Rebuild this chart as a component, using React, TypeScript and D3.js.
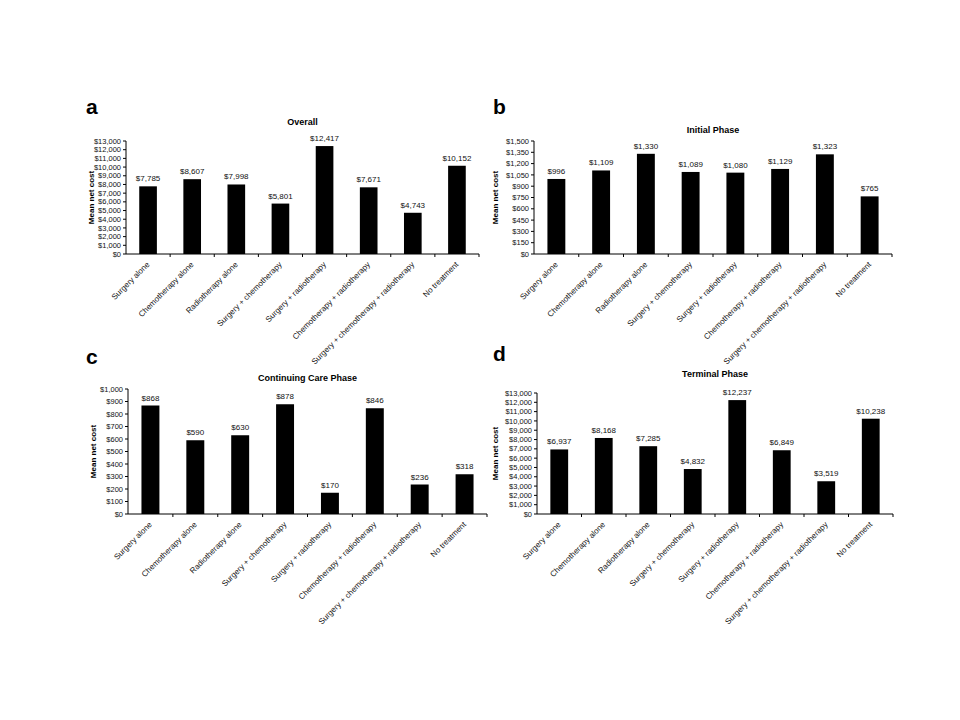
import React from "react";
import * as d3 from "d3";

const categories = [
  "Surgery alone",
  "Chemotherapy alone",
  "Radiotherapy alone",
  "Surgery + chemotherapy",
  "Surgery + radiotherapy",
  "Chemotherapy + radiotherapy",
  "Surgery + chemotherapy + radiotherapy",
  "No treatment",
];
const overall = [7785, 8607, 7998, 5801, 12417, 7671, 4743, 10152];
const initial = [996, 1109, 1330, 1089, 1080, 1129, 1323, 765];
const continuing = [868, 590, 630, 878, 170, 846, 236, 318];
const terminal = [6937, 8168, 7285, 4832, 12237, 6849, 3519, 10238];

const FONT = "'Liberation Sans', Arial, sans-serif";
const fmt = (v: number) => "$" + d3.format(",")(v);

type PanelProps = {
  letter: string;
  letterX: number;
  letterY: number;
  title: string;
  titleY: number;
  values: number[];
  max: number;
  step: number;
  x0: number;
  x1: number;
  yTop: number;
  yBottom: number;
  yTitleX: number;
};

function Panel(p: PanelProps) {
  const x = d3.scaleBand<string>().domain(categories).range([p.x0, p.x1]).paddingInner(0.6).paddingOuter(0.3);
  const band = d3.scaleBand<string>().domain(categories).range([p.x0, p.x1]);
  const y = d3.scaleLinear().domain([0, p.max]).range([p.yBottom, p.yTop]);
  const ticks = d3.range(0, p.max + p.step / 2, p.step);
  const bw = band.bandwidth();
  return (
    <g fontFamily={FONT}>
      <text x={p.letterX} y={p.letterY} fontSize={21} fontWeight="bold" fill="#000">
        {p.letter}
      </text>
      <text x={(p.x0 + p.x1) / 2} y={p.titleY} fontSize={9} fontWeight="bold" textAnchor="middle" fill="#000">
        {p.title}
      </text>
      <text
        transform={`translate(${p.yTitleX},${(p.yTop + p.yBottom) / 2}) rotate(-90)`}
        fontSize={8}
        fontWeight="bold"
        textAnchor="middle"
        dy="0.35em"
        fill="#000"
      >
        Mean net cost
      </text>
      {categories.map((c, i) => (
        <g key={c}>
          <rect x={x(c)} y={y(p.values[i])} width={x.bandwidth()} height={p.yBottom - y(p.values[i])} fill="#000" />
          <text
            x={(x(c) as number) + x.bandwidth() / 2}
            y={y(p.values[i]) - 5}
            fontSize={8}
            textAnchor="middle"
            fill="#111"
          >
            {fmt(p.values[i])}
          </text>
          <text
            transform={`translate(${(band(c) as number) + bw / 2},${p.yBottom + 9}) rotate(-45)`}
            fontSize={8}
            textAnchor="end"
            dy="0.35em"
            fill="#111"
          >
            {c}
          </text>
        </g>
      ))}
      <line x1={p.x0} x2={p.x0} y1={p.yTop} y2={p.yBottom} stroke="#000" strokeWidth={1} />
      <line x1={p.x0} x2={p.x1} y1={p.yBottom} y2={p.yBottom} stroke="#000" strokeWidth={1} />
      {ticks.map((t) => (
        <g key={t}>
          <line x1={p.x0 - 3} x2={p.x0} y1={y(t)} y2={y(t)} stroke="#000" />
          <text x={p.x0 - 5} y={y(t)} dy="0.35em" fontSize={7.5} textAnchor="end" fill="#111">
            {fmt(t)}
          </text>
        </g>
      ))}
      {categories.map((c) => (
        <line
          key={"t" + c}
          x1={(band(c) as number) + bw}
          x2={(band(c) as number) + bw}
          y1={p.yBottom}
          y2={p.yBottom + 3}
          stroke="#000"
        />
      ))}
    </g>
  );
}

export default function App() {
  return (
    <svg width={960} height={720} style={{ position: "absolute", left: 0, top: 0, background: "#fff" }}>
      <rect width={960} height={720} fill="#fff" />
      <Panel letter="a" letterX={86} letterY={114} title="Overall" titleY={125} values={overall} max={13000} step={1000}
        x0={126} x1={479} yTop={141} yBottom={254} yTitleX={91} />
      <Panel letter="b" letterX={493} letterY={114} title="Initial Phase" titleY={133} values={initial} max={1500} step={150}
        x0={534} x1={892} yTop={141} yBottom={254} yTitleX={495} />
      <Panel letter="c" letterX={86} letterY={364} title="Continuing Care Phase" titleY={381} values={continuing} max={1000} step={100}
        x0={128} x1={487} yTop={389} yBottom={514} yTitleX={93} />
      <Panel letter="d" letterX={493} letterY={361} title="Terminal Phase" titleY={377} values={terminal} max={13000} step={1000}
        x0={537} x1={893} yTop={393} yBottom={514} yTitleX={495} />
    </svg>
  );
}
